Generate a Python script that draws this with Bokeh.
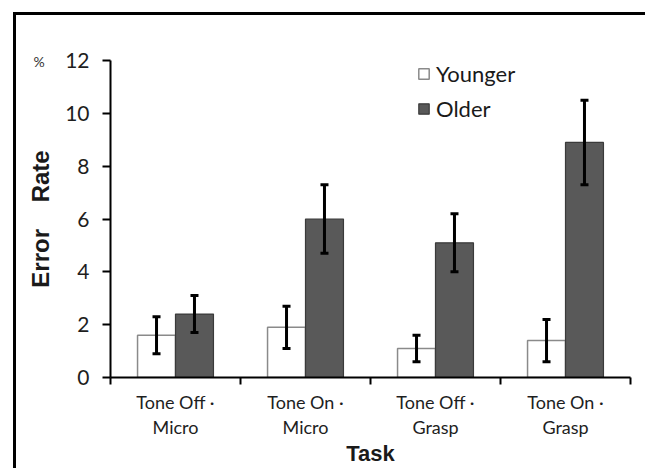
from bokeh.plotting import figure
from bokeh.models import (ColumnDataSource, FixedTicker, Whisker, TeeHead, Title, Range1d,
                          InlineStyleSheet)
from bokeh.embed import file_html
from bokeh.resources import INLINE

# ---- data ----
task_labels = ["Tone Off \u00b7\nMicro", "Tone On \u00b7\nMicro",
               "Tone Off \u00b7\nGrasp", "Tone On \u00b7\nGrasp"]
younger = [1.6, 1.9, 1.1, 1.4]
younger_err = [0.7, 0.8, 0.5, 0.8]
older = [2.4, 6.0, 5.1, 8.9]
older_err = [0.7, 1.3, 1.1, 1.6]
y_ticks = [0, 2, 4, 6, 8, 10, 12]

n = len(task_labels)
centers = [i + 0.5 for i in range(n)]
bw = 0.292
xy = [c - bw / 2 for c in centers]
xo = [c + bw / 2 for c in centers]

src_y = ColumnDataSource(dict(x=xy, top=younger,
                              upper=[v + e for v, e in zip(younger, younger_err)],
                              lower=[v - e for v, e in zip(younger, younger_err)]))
src_o = ColumnDataSource(dict(x=xo, top=older,
                              upper=[v + e for v, e in zip(older, older_err)],
                              lower=[v - e for v, e in zip(older, older_err)]))

p = figure(width=645, height=468, output_backend="svg", toolbar_location=None,
           x_range=Range1d(0, n), y_range=Range1d(0, 12),
           min_border_left=110, min_border_right=15, min_border_top=60,
           min_border_bottom=91)
p.background_fill_color = "white"
p.border_fill_color = None
p.outline_line_color = None
p.xgrid.visible = False
p.ygrid.visible = False
# outer frame: top and left edges only (right and bottom lie beyond the picture)
p.stylesheets = [InlineStyleSheet(css=(
    ":host { background: "
    "linear-gradient(black, black) no-repeat 13px 12px / 3px 2000px, "
    "linear-gradient(black, black) no-repeat 13px 12px / 2000px 3px, "
    "white; }"))]

p.vbar(x="x", top="top", width=bw, bottom=0, source=src_y, fill_color="white",
       line_color="#8a8a8a", line_width=1.5, legend_label="Younger")
p.vbar(x="x", top="top", width=bw, bottom=0, source=src_o, fill_color="#595959",
       line_color="#3a3a3a", line_width=1.2, legend_label="Older")

for src in (src_y, src_o):
    w = Whisker(base="x", upper="upper", lower="lower", source=src,
                line_color="black", line_width=3, level="overlay",
                upper_head=TeeHead(size=8, line_width=3, line_color="black"),
                lower_head=TeeHead(size=8, line_width=3, line_color="black"))
    p.add_layout(w)

# y axis
ya = p.yaxis[0]
ya.ticker = FixedTicker(ticks=y_ticks)
ya.axis_line_width = 2
ya.axis_line_color = "black"
ya.major_tick_line_width = 2
ya.major_tick_line_color = "black"
ya.major_tick_out = 8
ya.major_tick_in = 0
ya.minor_tick_line_color = None
ya.major_label_text_font = "Lato"
ya.major_label_text_font_size = "21px"
ya.major_label_text_color = "#1e1e1e"
ya.major_label_standoff = 13
ya.axis_label = "Error\u00a0\u00a0\u00a0\u00a0Rate"
ya.axis_label_text_font = "Liberation Sans"
ya.axis_label_text_font_style = "bold"
ya.axis_label_text_font_size = "24px"
ya.axis_label_text_color = "#1a1a1a"
ya.axis_label_standoff = 8

# x axis
xa = p.xaxis[0]
xa.ticker = FixedTicker(ticks=centers, minor_ticks=list(range(n + 1)))
xa.major_label_overrides = {c: lab for c, lab in zip(centers, task_labels)}
xa.axis_line_width = 2
xa.axis_line_color = "black"
xa.major_tick_line_color = None
xa.major_tick_out = 0
xa.major_tick_in = 0
xa.minor_tick_line_color = "black"
xa.minor_tick_line_width = 2
xa.minor_tick_out = 7
xa.minor_tick_in = 0
xa.major_label_text_font = "Lato"
xa.major_label_text_font_size = "18px"
xa.major_label_text_line_height = 1.15
xa.major_label_text_color = "#1e1e1e"
xa.major_label_standoff = 6
xa.axis_label = "Task"
xa.axis_label_text_font = "Liberation Sans"
xa.axis_label_text_font_style = "bold"
xa.axis_label_text_font_size = "22px"
xa.axis_label_text_line_height = 1.0
xa.axis_label_text_color = "#1a1a1a"
xa.axis_label_standoff = 0

# percent sign beside the top tick
p.add_layout(Title(text="%", align="left", offset=-77, standoff=-18,
                   text_font="Lato", text_font_size="14px", text_font_style="normal",
                   text_color="#333333"), "above")

# legend
lg = p.legend[0]
lg.location = (307, 255)
lg.border_line_color = None
lg.background_fill_alpha = 0
lg.padding = 0
lg.margin = 0
lg.spacing = 8
lg.glyph_width = 13
lg.glyph_height = 13
lg.label_height = 25
lg.label_standoff = 6
lg.label_text_font = "Lato"
lg.label_text_font_size = "22px"
lg.label_text_color = "#1a1a1a"

open("out.html", "w").write(file_html(p, INLINE))
